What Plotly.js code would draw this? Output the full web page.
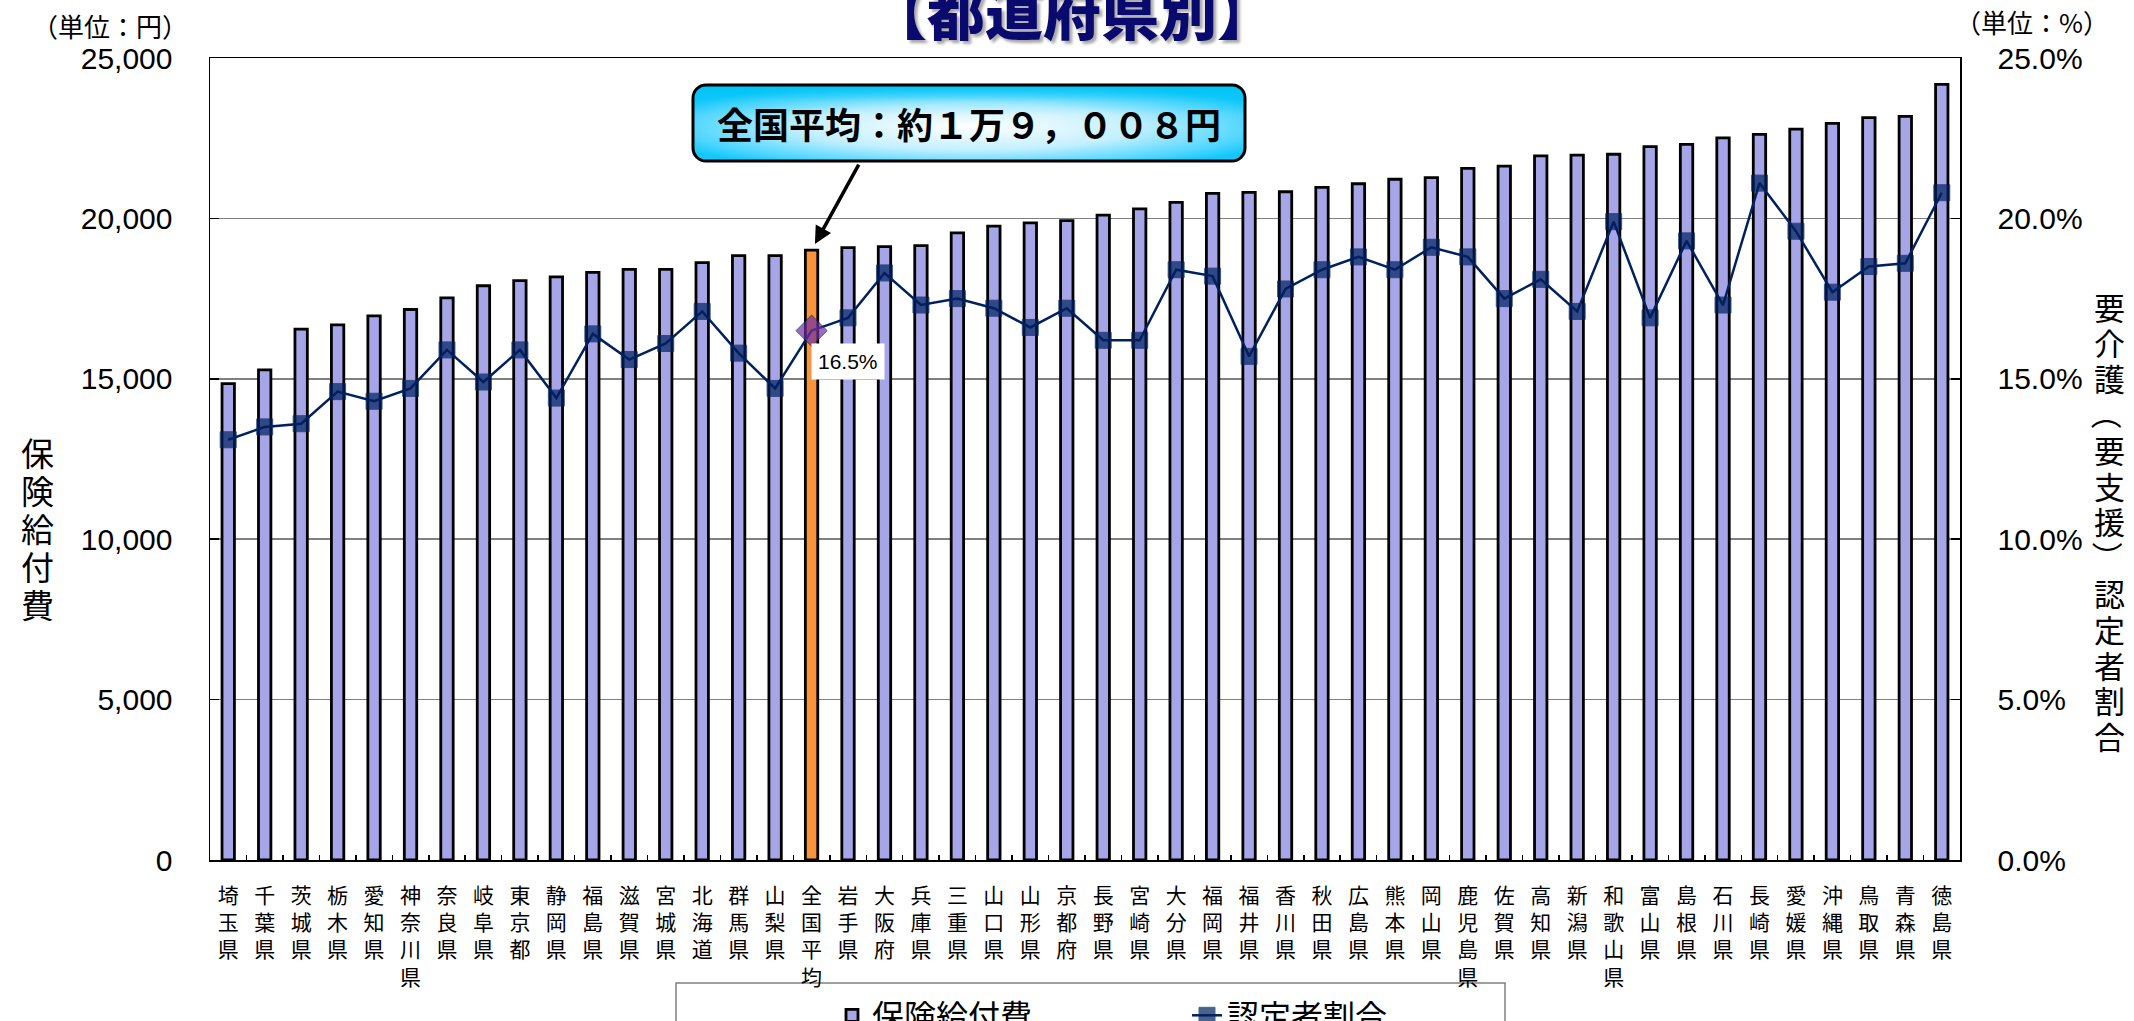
<!DOCTYPE html>
<html>
<head>
<meta charset="utf-8">
<script src="https://cdn.plot.ly/plotly-3.0.1.min.js"></script>
<style>html,body{margin:0;padding:0;background:#fff;}#chart{width:2134px;height:1021px;}</style>
</head>
<body>
<div id="chart"></div>
<script>
// ---- data ----
const prefectures = ['埼玉県','千葉県','茨城県','栃木県','愛知県','神奈川県','奈良県','岐阜県','東京都','静岡県','福島県','滋賀県','宮城県','北海道','群馬県','山梨県','全国平均','岩手県','大阪府','兵庫県','三重県','山口県','山形県','京都府','長野県','宮崎県','大分県','福岡県','福井県','香川県','秋田県','広島県','熊本県','岡山県','鹿児島県','佐賀県','高知県','新潟県','和歌山県','富山県','島根県','石川県','長崎県','愛媛県','沖縄県','鳥取県','青森県','徳島県'];
const benefitCost = [14850,15280,16550,16680,16960,17160,17520,17900,18060,18180,18320,18410,18410,18620,18840,18840,19008,19090,19120,19150,19550,19760,19860,19930,20100,20300,20500,20780,20810,20830,20970,21080,21220,21270,21560,21630,21950,21970,22000,22240,22310,22510,22620,22780,22960,23140,23180,24180];
const certRatio = [13.1,13.5,13.6,14.6,14.3,14.7,15.9,14.9,15.9,14.4,16.4,15.6,16.1,17.1,15.8,14.7,16.5,16.9,18.3,17.3,17.5,17.2,16.6,17.2,16.2,16.2,18.4,18.2,15.7,17.8,18.4,18.8,18.4,19.1,18.8,17.5,18.1,17.1,19.9,16.9,19.3,17.3,21.1,19.6,17.7,18.5,18.6,20.8];
const seriesNames = ['保険給付費','認定者割合'];
const avgName = '全国平均';
const calloutText = '全国平均：約１万９，００８円';
const chartTitle = '【都道府県別】';
const unitLeft = '（単位：円）';
const unitRight = '（単位：%）';
const leftTitle = '保険給付費';
const rightTitle = '要介護（要支援）認定者割合';

// ---- helpers ----
const X = px => (px - 210) / 1750;
const Y = py => (860 - py) / 802;
const stack = s => Array.from(s).join('<br>');
const avgIdx = prefectures.indexOf(avgName);

const barColors = prefectures.map(p => p === avgName ? '#F7943C' : '#A5A5E8');
const mSym = prefectures.map(p => p === avgName ? 'diamond' : 'square');
const mSize = prefectures.map(p => p === avgName ? 24 : 16);
const mCol = prefectures.map(p => p === avgName ? '#7030A0' : '#002060');

const jp = 'Noto Sans CJK JP';
const num = 'Liberation Sans, Arial, sans-serif';

const traces = [
  {
    type: 'bar', name: seriesNames[0], x: prefectures, y: benefitCost,
    marker: {color: barColors, line: {color: '#000', width: 2.8}},
    hoverinfo: 'skip'
  },
  {
    type: 'scatter', mode: 'lines+markers', name: seriesNames[1], x: prefectures, y: certRatio, yaxis: 'y2',
    line: {color: '#002060', width: 2.5},
    marker: {symbol: mSym, size: mSize, color: mCol},
    hoverinfo: 'skip'
  }
];

const svg = "<svg xmlns='http://www.w3.org/2000/svg' width='556' height='80' viewBox='0 0 556 80'>" +
  "<defs><radialGradient id='g' cx='0.5' cy='0.55' r='0.6'>" +
  "<stop offset='0' stop-color='#ffffff'/><stop offset='0.5' stop-color='#c4f0ff'/><stop offset='0.85' stop-color='#4fd6ff'/><stop offset='1' stop-color='#14c8fb'/></radialGradient>" +
  "<linearGradient id='t' x1='0' y1='0' x2='0' y2='1'><stop offset='0' stop-color='#00c4f5' stop-opacity='1'/><stop offset='0.22' stop-color='#00c4f5' stop-opacity='0.2'/><stop offset='0.4' stop-color='#00c4f5' stop-opacity='0'/></linearGradient></defs>" +
  "<rect x='2' y='2' width='552' height='76' rx='13' fill='url(#g)'/>" +
  "<rect x='2' y='2' width='552' height='76' rx='13' fill='url(#t)' stroke='#000' stroke-width='3'/></svg>";

// vertical (stacked upright) axis titles, one glyph per annotation; brackets rotated
function verticalText(str, xPx, yStart, step, size) {
  return Array.from(str).map((c, i) => {
    const isParen = c === '（' || c === '）';
    return {text: c, xref: 'paper', yref: 'paper', x: X(xPx), y: Y(yStart + i * step), xanchor: 'center', yanchor: 'middle',
      showarrow: false, textangle: isParen ? 90 : 0, font: {family: jp, size: size, color: '#000'}};
  });
}

const annotations = [
  {text: chartTitle, xref: 'paper', yref: 'paper', x: X(1072), y: Y(10), xanchor: 'center', yanchor: 'middle', showarrow: false,
   font: {family: jp, size: 58, weight: 900, color: '#0a0a6e', shadow: '3px 3px 3px rgba(0,0,0,0.35)'}},
  {text: unitLeft, xref: 'paper', yref: 'paper', x: X(30), y: Y(25), xanchor: 'left', yanchor: 'middle', showarrow: false,
   font: {family: jp, size: 26, color: '#000'}},
  {text: unitRight, xref: 'paper', yref: 'paper', x: X(1953), y: Y(22), xanchor: 'left', yanchor: 'middle', showarrow: false,
   font: {family: jp, size: 26, color: '#000'}},
  {text: calloutText, xref: 'paper', yref: 'paper', x: X(969), y: Y(123), xanchor: 'center', yanchor: 'middle', showarrow: false,
   font: {family: jp, size: 36, weight: 'bold', color: '#000'}},
  {text: '', xref: 'x', yref: 'y', x: avgName, y: benefitCost[avgIdx], showarrow: true,
   ax: 48, ay: -87, arrowhead: 2, arrowsize: 1, arrowwidth: 3.5, arrowcolor: '#000', standoff: 7},
  {text: certRatio[avgIdx].toFixed(1) + '%', xref: 'x', yref: 'y2', x: avgName, y: certRatio[avgIdx], showarrow: false,
   xanchor: 'left', yanchor: 'top', xshift: -1, yshift: -12, bgcolor: '#fff', borderpad: 6,
   font: {family: num, size: 21, color: '#000'}}
].concat(verticalText(leftTitle, 37, 452, 38, 33))
 .concat(verticalText(rightTitle, 2109, 306, 35.8, 31));

const layout = {
  width: 2134, height: 1021,
  margin: {l: 210, r: 174, t: 58, b: 161, autoexpand: false},
  paper_bgcolor: '#fff', plot_bgcolor: '#fff',
  showlegend: true, hovermode: false, bargap: 0.66,
  font: {family: jp, color: '#000'},
  xaxis: {
    type: 'category', range: [-0.5, prefectures.length - 0.5], tickvals: prefectures, ticktext: prefectures.map(stack),
    tickson: 'boundaries', ticks: 'inside', ticklen: 5, tickwidth: 1.5, tickcolor: '#000',
    showline: true, linecolor: '#000', linewidth: 1.5, mirror: true,
    tickfont: {family: jp, size: 21, color: '#000'}, ticklabelstandoff: 16,
    showgrid: false, fixedrange: true
  },
  yaxis: {
    range: [0, 25000], dtick: 5000, tickformat: ',d',
    ticks: 'inside', ticklen: 9, tickwidth: 1.5, tickcolor: '#000',
    showgrid: true, gridcolor: '#808080', gridwidth: 1.5, zeroline: false,
    showline: true, linecolor: '#000', linewidth: 1.5,
    tickfont: {family: num, size: 30, color: '#000'}, ticklabelstandoff: 30
  },
  yaxis2: {
    overlaying: 'y', side: 'right', range: [0, 25], dtick: 5, tickformat: '.1f', ticksuffix: '%',
    ticks: 'inside', ticklen: 9, tickwidth: 1.5, tickcolor: '#000',
    showgrid: false, zeroline: false, showline: true, linecolor: '#000', linewidth: 1.5,
    tickfont: {family: num, size: 30, color: '#000'}, ticklabelstandoff: 30
  },
  legend: {
    orientation: 'h', x: X(832), xanchor: 'left', y: Y(988), yanchor: 'top',
    borderwidth: 0, bgcolor: 'rgba(0,0,0,0)',
    font: {family: jp, size: 32, color: '#000'}, entrywidth: 310
  },
  shapes: [{
    type: 'rect', xref: 'paper', yref: 'paper', x0: X(676), x1: X(1505), y0: Y(983), y1: Y(1040),
    line: {color: '#808080', width: 1.5}, fillcolor: 'rgba(0,0,0,0)', layer: 'below'
  }],
  images: [{
    source: 'data:image/svg+xml;charset=utf-8,' + encodeURIComponent(svg),
    xref: 'paper', yref: 'paper', x: X(691), y: Y(83), sizex: 556 / 1750, sizey: 80 / 802,
    sizing: 'stretch', layer: 'above', xanchor: 'left', yanchor: 'top'
  }],
  annotations: annotations
};

Plotly.newPlot('chart', traces, layout, {displayModeBar: false, staticPlot: true});
</script>
</body>
</html>
